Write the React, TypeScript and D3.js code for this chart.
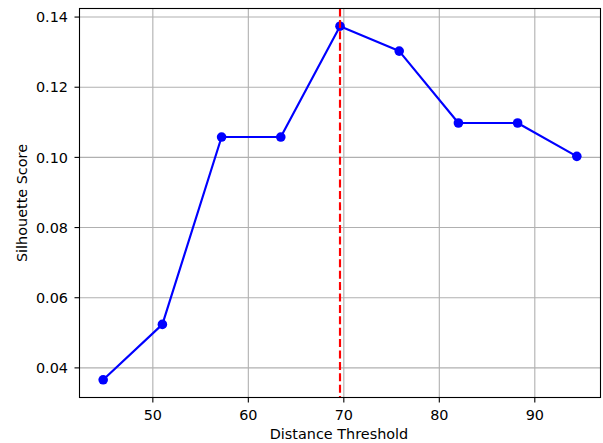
import React from "react";
import * as d3 from "d3";

const thresholds = [44.8, 51.0, 57.2, 63.4, 69.6, 75.8, 82.0, 88.2, 94.4];
const scores = [0.0366, 0.0524, 0.1058, 0.1058, 0.1374, 0.1303, 0.1098, 0.1098, 0.1003];
const bestThreshold = 69.6;
const xTicks = [50, 60, 70, 80, 90];
const yTicks = [0.04, 0.06, 0.08, 0.1, 0.12, 0.14];
const xLabel = "Distance Threshold";
const yLabel = "Silhouette Score";

const W = 603;
const H = 443;
const L = 79.5;
const R = 600.5;
const T = 8.5;
const B = 397.5;
const FS = 14.4;
const FONT = "'DejaVu Sans', sans-serif";

function pad(ext: [number, number]): [number, number] {
  const s = ext[1] - ext[0];
  return [ext[0] - 0.05 * s, ext[1] + 0.05 * s];
}

export default function App() {
  const x = d3.scaleLinear().domain(pad(d3.extent(thresholds) as [number, number])).range([L, R]);
  const y = d3.scaleLinear().domain(pad(d3.extent(scores) as [number, number])).range([B, T]);
  const line = d3
    .line<number>()
    .x((_, i) => x(thresholds[i]))
    .y((d) => y(d));
  const tick = 5;
  return (
    <svg
      width={W}
      height={H}
      style={{ position: "absolute", left: 0, top: 0, background: "#fff" }}
      fontFamily={FONT}
    >
      <rect x={0} y={0} width={W} height={H} fill="#fff" />
      <g>
        {xTicks.map((t) => (
          <line key={"gx" + t} x1={x(t)} x2={x(t)} y1={T} y2={B} stroke="#b0b0b0" strokeWidth={1.1} />
        ))}
        {yTicks.map((t) => (
          <line key={"gy" + t} x1={L} x2={R} y1={y(t)} y2={y(t)} stroke="#b0b0b0" strokeWidth={1.1} />
        ))}
      </g>
      <path d={line(scores) || ""} fill="none" stroke="#0000ff" strokeWidth={2.15} strokeLinejoin="round" />
      {scores.map((s, i) => (
        <circle key={"p" + i} cx={x(thresholds[i])} cy={y(s)} r={4.8} fill="#0000ff" />
      ))}
      <line
        x1={x(bestThreshold)}
        x2={x(bestThreshold)}
        y1={T}
        y2={B}
        stroke="#ff0000"
        strokeWidth={2.15}
        strokeDasharray="8,3.4"
      />
      <rect x={L} y={T} width={R - L} height={B - T} fill="none" stroke="#000" strokeWidth={1.1} />
      {xTicks.map((t) => (
        <g key={"tx" + t}>
          <line x1={x(t)} x2={x(t)} y1={B} y2={B + tick} stroke="#000" strokeWidth={1.1} />
          <text x={x(t)} y={420} textAnchor="middle" fontSize={FS} fill="#000">
            {t}
          </text>
        </g>
      ))}
      {yTicks.map((t) => (
        <g key={"ty" + t}>
          <line x1={L - tick} x2={L} y1={y(t)} y2={y(t)} stroke="#000" strokeWidth={1.1} />
          <text x={L - 2 * tick - 1.5} y={y(t)} dy="0.36em" textAnchor="end" fontSize={FS} fill="#000">
            {d3.format(".2f")(t)}
          </text>
        </g>
      ))}
      <text x={(L + R) / 2 - 1} y={439} textAnchor="middle" fontSize={FS} fill="#000">
        {xLabel}
      </text>
      <text
        transform={`translate(26.5,${(T + B) / 2}) rotate(-90)`}
        textAnchor="middle"
        fontSize={FS}
        fill="#000"
      >
        {yLabel}
      </text>
    </svg>
  );
}
